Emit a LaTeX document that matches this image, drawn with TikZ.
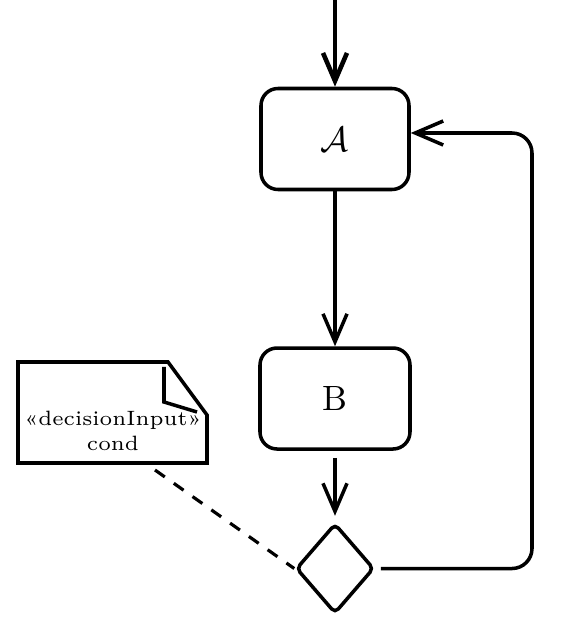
\documentclass[tikz,border=0pt]{standalone}
\usepackage{tikz}
\usetikzlibrary{positioning,shapes.geometric,arrows.meta}
\tikzstyle{blk}=[draw, rounded corners=0.17cm, minimum height = 1.01cm, minimum width=1.48cm, line width=1pt]
\tikzstyle{dec}=[draw, diamond, inner sep=0pt, minimum height = 0.9cm, minimum width=0.78cm, rounded corners=0.5mm, line width=1pt]
\tikzstyle{arr}=[-{Straight Barb[length=2.8mm,width=2.4mm]}, line width=1pt]

\begin{document}
\begin{tikzpicture}[node distance=1.55cm]
\useasboundingbox (0,0) rectangle (5.75,6.35);

\coordinate (start) at (3.35,6.35);
\node[blk] at (3.35,4.96) (A) {$\mathcal{A}$};
\node[blk, below = of A, minimum width=1.50cm] (B) {B};
\node[dec, below = 0.71cm of B] (cond) {};

\draw[arr, line width=1.3pt] (start) -- (A);
\draw[arr] (A) -- (B);
\draw[arr, shorten <=0.7mm, shorten >=0.6mm] (B) -- (cond);

% loop back to A
\coordinate (back) at (5.27,0);
\draw[arr, rounded corners=0.2cm] ([xshift=0.5mm]cond.east) -- ([xshift=0.5mm]cond.east -| back) |- ([yshift=0.6mm]A.east);

% decision input note
\node[align=center, font=\fontsize{5.9}{7.2}\selectfont] at (1.13,2.04) (note) {«decisionInput»\\cond};
\draw[line width=1pt] (0.18,2.73) -- (1.68,2.73) -- (2.07,2.20) -- (2.07,1.72) -- (0.18,1.72) -- cycle;
\draw[line width=1pt] (1.64,2.68) -- (1.64,2.33) -- (1.97,2.23);
\coordinate (tail) at (1.55,1.65);
\draw[dashed, dash pattern=on 1.2mm off 1.1mm, line width=0.9pt] (tail) -- (cond.west);
\end{tikzpicture}
\end{document}
